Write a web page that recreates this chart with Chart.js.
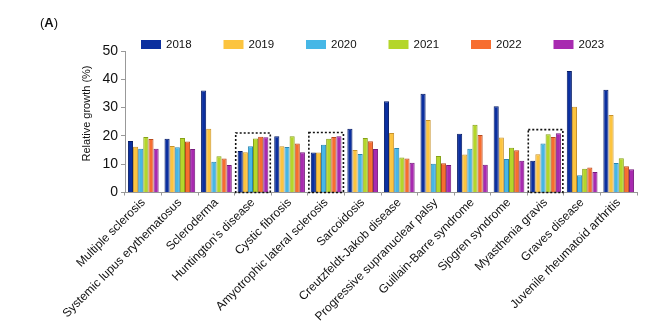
<!DOCTYPE html>
<html>
<head>
<meta charset="utf-8">
<script src="https://cdn.jsdelivr.net/npm/chart.js@4.4.1/dist/chart.umd.min.js"></script>
<style>
    html, body { margin: 0; padding: 0; background: #fff; }
    #wrap { position: relative; width: 669px; height: 330px; }
    #panel-tag { position: absolute; left: 40px; top: 15px; font: 13px 'Liberation Sans', Arial, sans-serif; color: #111; }
</style>
</head>
<body>
<div id="wrap">
    <div id="panel-tag">(<b>A</b>)</div>
    <canvas id="chart-growth" width="669" height="330"></canvas>
</div>
<script>
// Categorias (doenças)
const diseases = [
    'Multiple sclerosis', 'Systemic lupus erythematosus', 'Scleroderma', 'Huntington’s disease',
    'Cystic fibrosis', 'Amyotrophic lateral sclerosis', 'Sarcoidosis', 'Creutzfeldt-Jakob disease',
    'Progressive supranuclear palsy', 'Guillain-Barre syndrome', 'Sjogren syndrome',
    'Myasthenia gravis', 'Graves disease', 'Juvenile rheumatoid arthritis'
];

const years = ['2018', '2019', '2020', '2021', '2022', '2023'];

// Relative growth (%) por ano
const growth2018 = [18.2, 19.0, 36.0, 14.7, 19.9, 14.1, 22.5, 32.2, 34.9, 20.8, 30.5, 11.2, 42.9, 36.3];
const growth2019 = [16.2, 16.4, 22.5, 14.2, 16.3, 14.1, 15.0, 21.0, 25.6, 13.4, 19.4, 13.5, 30.3, 27.4];
const growth2020 = [15.5, 16.0, 10.9, 16.3, 16.1, 16.9, 13.6, 15.7, 10.2, 15.5, 11.8, 17.3, 6.1, 10.4];
const growth2021 = [19.6, 19.3, 12.8, 19.1, 19.9, 19.0, 19.3, 12.4, 12.9, 23.9, 15.8, 20.6, 8.4, 12.1];
const growth2022 = [18.9, 18.0, 12.0, 19.7, 17.3, 19.6, 18.1, 12.0, 10.3, 20.3, 14.9, 19.6, 8.8, 9.3];
const growth2023 = [15.5, 15.4, 9.7, 19.5, 14.2, 19.9, 15.4, 10.5, 9.7, 9.8, 11.2, 20.9, 7.2, 8.2];

const yTicks = [0, 10, 20, 30, 40, 50];

// Doenças destacadas com caixa pontilhada
const highlighted = ['Huntington’s disease', 'Amyotrophic lateral sclerosis', 'Myasthenia gravis'];

const colors = ['#0b2f9f', '#fcc43f', '#46b7e6', '#b4d62a', '#f76d2f', '#a82ab0'];
const edges = ['#061c66', '#c8922a', '#2b86b0', '#86a116', '#b84a1c', '#761a7c'];

const series = [growth2018, growth2019, growth2020, growth2021, growth2022, growth2023];

const FONT = "'Liberation Sans', Arial, sans-serif";

// Legenda desenhada manualmente no topo
const legendPlugin = {
    id: 'topLegend',
    afterDraw: (chart) => {
        const ctx = chart.ctx;
        ctx.save();
        ctx.font = '11.5px ' + FONT;
        ctx.textBaseline = 'middle';
        chart.data.datasets.forEach((ds, i) => {
            const x = 141 + i * 82.5;
            ctx.fillStyle = ds.backgroundColor;
            ctx.fillRect(x, 40, 20, 9);
            ctx.fillStyle = '#111';
            ctx.fillText(ds.label, x + 25, 45);
        });
        ctx.restore();
    }
};

// Título do eixo Y (posição ajustada à mão)
const yTitlePlugin = {
    id: 'yTitle',
    afterDraw: (chart) => {
        const ctx = chart.ctx;
        ctx.save();
        ctx.translate(87, 113.5);
        ctx.rotate(-Math.PI / 2);
        ctx.font = '11px ' + FONT;
        ctx.fillStyle = '#111';
        ctx.textAlign = 'center';
        ctx.textBaseline = 'middle';
        ctx.fillText('Relative growth (%)', 0, 0);
        ctx.restore();
    }
};

// Caixas pontilhadas em volta das doenças destacadas
const boxPlugin = {
    id: 'dottedBoxes',
    afterDatasetsDraw: (chart) => {
        const ctx = chart.ctx;
        const xs = chart.scales.x;
        const ys = chart.scales.y;
        const step = xs.width / diseases.length;
        ctx.save();
        ctx.strokeStyle = '#111';
        ctx.lineWidth = 1.6;
        ctx.setLineDash([2, 2]);
        highlighted.forEach(name => {
            const idx = diseases.indexOf(name);
            const top = Math.max(...series.map(s => s[idx])) + 1.3;
            const cx = xs.getPixelForValue(idx);
            const left = cx - step / 2 + 1;
            const right = cx + step / 2 - 1;
            const yTop = ys.getPixelForValue(top);
            const yBot = ys.getPixelForValue(0);
            ctx.strokeRect(left, yTop, right - left, yBot - yTop);
        });
        ctx.restore();
    }
};

new Chart(document.getElementById('chart-growth'), {
    type: 'bar',
    data: {
        labels: diseases,
        datasets: years.map((y, i) => ({
            label: y,
            data: series[i],
            backgroundColor: colors[i],
            borderColor: edges[i],
            borderWidth: 1,
            barPercentage: 1.0,
            categoryPercentage: 0.84
        }))
    },
    options: {
        responsive: false,
        animation: false,
        devicePixelRatio: 1,
        layout: { padding: { top: 51, right: 32, left: 0, bottom: 0 } },
        plugins: {
            legend: { display: false },
            tooltip: { enabled: false }
        },
        scales: {
            x: {
                afterFit: (s) => { s.height = 137.5; },
                grid: { display: true, drawOnChartArea: false, drawTicks: true, tickLength: 3, color: '#999' },
                border: { color: '#999', width: 1 },
                ticks: {
                    autoSkip: false,
                    minRotation: 45,
                    maxRotation: 45,
                    padding: 0,
                    color: '#111',
                    font: { family: FONT, size: 12 }
                }
            },
            y: {
                min: 0,
                max: 50,
                afterFit: (s) => { s.width = 125; },
                afterBuildTicks: (s) => { s.ticks = yTicks.map(v => ({ value: v })); },
                grid: { display: true, drawOnChartArea: false, drawTicks: true, tickLength: 4, color: '#999' },
                border: { color: '#999', width: 1 },
                ticks: {
                    padding: 3,
                    color: '#111',
                    font: { family: FONT, size: 14 }
                }
            }
        }
    },
    plugins: [legendPlugin, yTitlePlugin, boxPlugin]
});
</script>
</body>
</html>
